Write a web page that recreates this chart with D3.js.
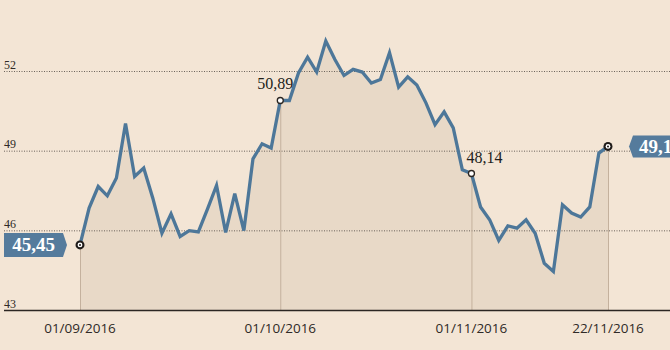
<!DOCTYPE html>
<html><head><meta charset="utf-8">
<script src="https://cdn.jsdelivr.net/npm/d3@7"></script>
<style>
html,body{margin:0;padding:0;background:#f3e5d5;}
svg{display:block;}
</style></head>
<body>
<svg id="c" width="670" height="350"></svg>
<script>
const dates = [
 "2016-09-01","2016-09-02","2016-09-05","2016-09-06","2016-09-07","2016-09-08","2016-09-09",
 "2016-09-12","2016-09-13","2016-09-14","2016-09-15","2016-09-16","2016-09-19","2016-09-20",
 "2016-09-21","2016-09-22","2016-09-23","2016-09-26","2016-09-27","2016-09-28","2016-09-29","2016-09-30",
 "2016-10-03","2016-10-04","2016-10-05","2016-10-06","2016-10-07","2016-10-10","2016-10-11",
 "2016-10-12","2016-10-13","2016-10-14","2016-10-17","2016-10-18","2016-10-19","2016-10-20",
 "2016-10-21","2016-10-24","2016-10-25","2016-10-26","2016-10-27","2016-10-28","2016-10-31",
 "2016-11-01","2016-11-02","2016-11-03","2016-11-04","2016-11-07","2016-11-08","2016-11-09",
 "2016-11-10","2016-11-11","2016-11-14","2016-11-15","2016-11-16","2016-11-17","2016-11-18",
 "2016-11-21","2016-11-22"
];
const values = [
 45.45,46.84,47.65,47.30,47.97,50.02,48.03,48.35,47.21,45.89,46.62,45.77,45.99,45.94,
 46.80,47.69,45.92,47.38,45.99,48.69,49.26,49.10,
 50.89,50.89,51.93,52.52,51.96,53.13,52.43,51.83,52.06,51.96,51.55,51.68,52.69,51.39,
 51.78,51.47,50.80,49.98,50.46,49.86,48.28,
 48.14,46.88,46.40,45.62,46.17,46.08,46.40,45.89,44.76,44.45,46.96,46.65,46.50,46.88,48.91,49.16
];
const yTicks = [43,46,49,52];
const xTickDates = ["2016-09-01","2016-10-03","2016-11-01","2016-11-22"];
const xTickLabels = ["01/09/2016","01/10/2016","01/11/2016","22/11/2016"];
const calloutDates = ["2016-10-03","2016-11-01"];
const calloutLabels = ["50,89","48,14"];
const endLabels = ["45,45","49,16"];

const svg = d3.select("#c");
const W = 670, H = 350;
const x = d3.scalePoint().domain(dates).range([80, 608]);
const y = d3.scaleLinear().domain([43, 52]).range([310, 71]);
const data = dates.map((d,i)=>({d, v: values[i]}));

// area
svg.append("path").datum(data)
  .attr("d", d3.area().x(p=>x(p.d)).y0(y(43)).y1(p=>y(p.v)))
  .attr("fill","#e8d9c7");

// grid
const g = svg.append("g");
yTicks.forEach(t=>{
  if (t !== 43) g.append("line").attr("x1",4).attr("x2",W).attr("y1",y(t)+0.5).attr("y2",y(t)+0.5)
    .attr("stroke","#6b625a").attr("stroke-width",1).attr("stroke-dasharray","1,1.5");
  g.append("text").attr("x",4).attr("y",y(t)-2.5).text(t)
    .attr("font-family","Liberation Serif, serif").attr("font-size",12).attr("fill","#2f2a26");
});

// vertical markers
xTickDates.forEach(d=>{
  const i = dates.indexOf(d);
  svg.append("line").attr("x1",x(d)+0.5).attr("x2",x(d)+0.5).attr("y1",y(values[i])).attr("y2",y(43))
    .attr("stroke","#c4b19d").attr("stroke-width",1);
});

// baseline
svg.append("line").attr("x1",4).attr("x2",W).attr("y1",y(43)+0.5).attr("y2",y(43)+0.5)
  .attr("stroke","#2b2623").attr("stroke-width",1.5);

// x labels
xTickDates.forEach((d,k)=>{
  svg.append("text").attr("x",x(d)).attr("y",333).attr("text-anchor","middle").text(xTickLabels[k])
    .attr("font-family","Open Sans, sans-serif").attr("font-size",13.5).attr("fill","#2f2a27");
});

// line
svg.append("path").datum(data)
  .attr("d", d3.line().x(p=>x(p.d)).y(p=>y(p.v)))
  .attr("fill","none").attr("stroke","#4d7799").attr("stroke-width",3.3).attr("stroke-linejoin","miter");

// callouts
const cOff = [{dx:13, anchor:"end"},{dx:-5, anchor:"start"}];
calloutDates.forEach((d,k)=>{
  const i = dates.indexOf(d);
  const cx = x(d), cy = y(values[i]);
  svg.append("text").attr("x",cx+cOff[k].dx).attr("y",cy-11).attr("text-anchor",cOff[k].anchor)
    .text(calloutLabels[k]).attr("font-family","Liberation Serif, serif").attr("font-size",16)
    .attr("fill","#221e1b");
  svg.append("circle").attr("cx",cx).attr("cy",cy).attr("r",3).attr("fill","#fff").attr("stroke","#2a2521").attr("stroke-width",1.3);
});

// end markers
[0, dates.length-1].forEach(i=>{
  const cx = x(dates[i]), cy = y(values[i]);
  svg.append("circle").attr("cx",cx).attr("cy",cy).attr("r",4.5).attr("fill","#1e1a18");
  svg.append("circle").attr("cx",cx).attr("cy",cy).attr("r",2.4).attr("fill","#fff");
  svg.append("circle").attr("cx",cx).attr("cy",cy).attr("r",1).attr("fill","#1e1a18");
});

// end labels
const boxC = "#557b9c";
{
  const cy = y(values[0]);
  svg.append("path").attr("d",`M4,${cy-12}H63L67,${cy}L63,${cy+12}H4Z`).attr("fill",boxC);
  svg.append("text").attr("x",33.5).attr("y",cy+6.5).attr("text-anchor","middle").text(endLabels[0])
    .attr("font-family","Liberation Serif, serif").attr("font-weight","bold").attr("font-size",19).attr("fill","#fff");
}
{
  const i = values.length-1, cy = y(values[i]);
  svg.append("path").attr("d",`M633,${cy-11}H672V${cy+11}H633L629,${cy}Z`).attr("fill",boxC);
  svg.append("text").attr("x",639).attr("y",cy+6.5).text(endLabels[1])
    .attr("font-family","Liberation Serif, serif").attr("font-weight","bold").attr("font-size",19).attr("fill","#fff");
}
</script>
</body></html>
